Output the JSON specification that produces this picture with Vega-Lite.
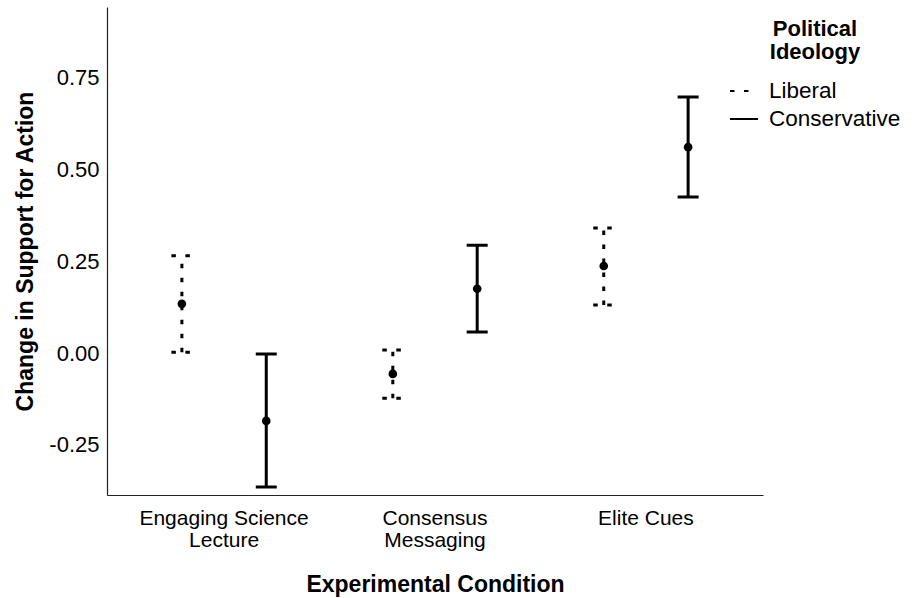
{
  "$schema": "https://vega.github.io/schema/vega-lite/v6.json",
  "width": 656,
  "height": 488,
  "autosize": {"type": "none"},
  "padding": {"left": 107, "top": 7, "right": 151, "bottom": 103},
  "background": "white",
  "config": {
    "font": "Liberation Sans",
    "view": {"stroke": null},
    "axis": {"grid": false, "ticks": false, "tickSize": 0, "domainColor": "#222", "domainWidth": 1.2, "labelColor": "black", "titleColor": "black", "labelFont": "Liberation Sans", "titleFont": "Liberation Sans"},
    "legend": {"labelFont": "Liberation Sans", "titleFont": "Liberation Sans"}
  },
  "data": {
    "values": [
      {"condition": "Engaging Science Lecture", "ideology": "Liberal", "mean": 0.134, "lower": 0.002, "upper": 0.265},
      {"condition": "Engaging Science Lecture", "ideology": "Conservative", "mean": -0.185, "lower": -0.365, "upper": -0.003},
      {"condition": "Consensus Messaging", "ideology": "Liberal", "mean": -0.057, "lower": -0.123, "upper": 0.008},
      {"condition": "Consensus Messaging", "ideology": "Conservative", "mean": 0.175, "lower": 0.057, "upper": 0.294},
      {"condition": "Elite Cues", "ideology": "Liberal", "mean": 0.237, "lower": 0.131, "upper": 0.341},
      {"condition": "Elite Cues", "ideology": "Conservative", "mean": 0.561, "lower": 0.425, "upper": 0.698}
    ]
  },
  "encoding": {
    "x": {
      "field": "condition", "type": "nominal",
      "sort": ["Engaging Science Lecture", "Consensus Messaging", "Elite Cues"],
      "scale": {"paddingInner": 0.2, "paddingOuter": 0.155},
      "axis": {
        "title": "Experimental Condition", "labelAngle": 0, "labelFontSize": 21, "labelLineHeight": 22,
        "labelPadding": 12, "titleFontSize": 23, "titleFontWeight": "bold", "titlePadding": 23,
        "labelExpr": "datum.label == 'Engaging Science Lecture' ? ['Engaging Science', 'Lecture'] : datum.label == 'Consensus Messaging' ? ['Consensus', 'Messaging'] : datum.label"
      }
    },
    "xOffset": {
      "field": "ideology", "type": "nominal",
      "sort": ["Liberal", "Conservative"],
      "scale": {"paddingInner": 0, "paddingOuter": 0}
    }
  },
  "layer": [
    {
      "mark": {"type": "rule", "strokeWidth": 3, "color": "black"},
      "encoding": {
        "y": {
          "field": "lower", "type": "quantitative",
          "scale": {"domain": [-0.387, 0.943], "nice": false, "zero": false},
          "axis": {
            "title": "Change in Support for Action", "values": [-0.25, 0, 0.25, 0.5, 0.75],
            "labelExpr": "datum.value < 0 ? '-' + format(-datum.value, '.2f') : format(datum.value, '.2f')",
            "labelFontSize": 22, "labelPadding": 8, "titleFontSize": 23, "titleFontWeight": "bold", "titlePadding": 11
          }
        },
        "y2": {"field": "upper"},
        "strokeDash": {
          "field": "ideology", "type": "nominal",
          "scale": {"domain": ["Liberal", "Conservative"], "range": [[4.5, 9.5], [1, 0]]},
          "legend": {
            "title": ["Political", "Ideology"],
            "orient": "none", "legendX": 622, "legendY": 12,
            "titleFontSize": 22, "titleFontWeight": "bold", "titleColor": "black", "titleLineHeight": 23,
            "titleAnchor": "middle", "titleAlign": "center", "titlePadding": 12,
            "labelFontSize": 22.5, "labelColor": "black", "labelOffset": 10,
            "symbolType": "stroke", "symbolSize": 784, "symbolStrokeWidth": 2, "symbolStrokeColor": "black",
            "rowPadding": 1,
            "encode": {"symbols": {"update": {"strokeDash": {"signal": "datum.value === 'Liberal' ? [5, 4.5] : [1, 0]"}}}}
          }
        }
      }
    },
    {
      "mark": {"type": "point", "shape": "M-1,0L1,0", "size": 441, "strokeWidth": 3, "color": "black", "filled": false, "opacity": 1},
      "encoding": {
        "y": {"field": "upper", "type": "quantitative"},
        "strokeDash": {"field": "ideology", "type": "nominal", "scale": {"domain": ["Liberal", "Conservative"], "range": [[5, 3.5, 3, 3.5], [1, 0]]}, "legend": null}
      }
    },
    {
      "mark": {"type": "point", "shape": "M-1,0L1,0", "size": 441, "strokeWidth": 3, "color": "black", "filled": false, "opacity": 1},
      "encoding": {
        "y": {"field": "lower", "type": "quantitative"},
        "strokeDash": {"field": "ideology", "type": "nominal", "legend": null}
      }
    },
    {
      "mark": {"type": "point", "shape": "circle", "size": 75, "filled": true, "color": "black", "opacity": 1},
      "encoding": {
        "y": {"field": "mean", "type": "quantitative"}
      }
    }
  ]
}
